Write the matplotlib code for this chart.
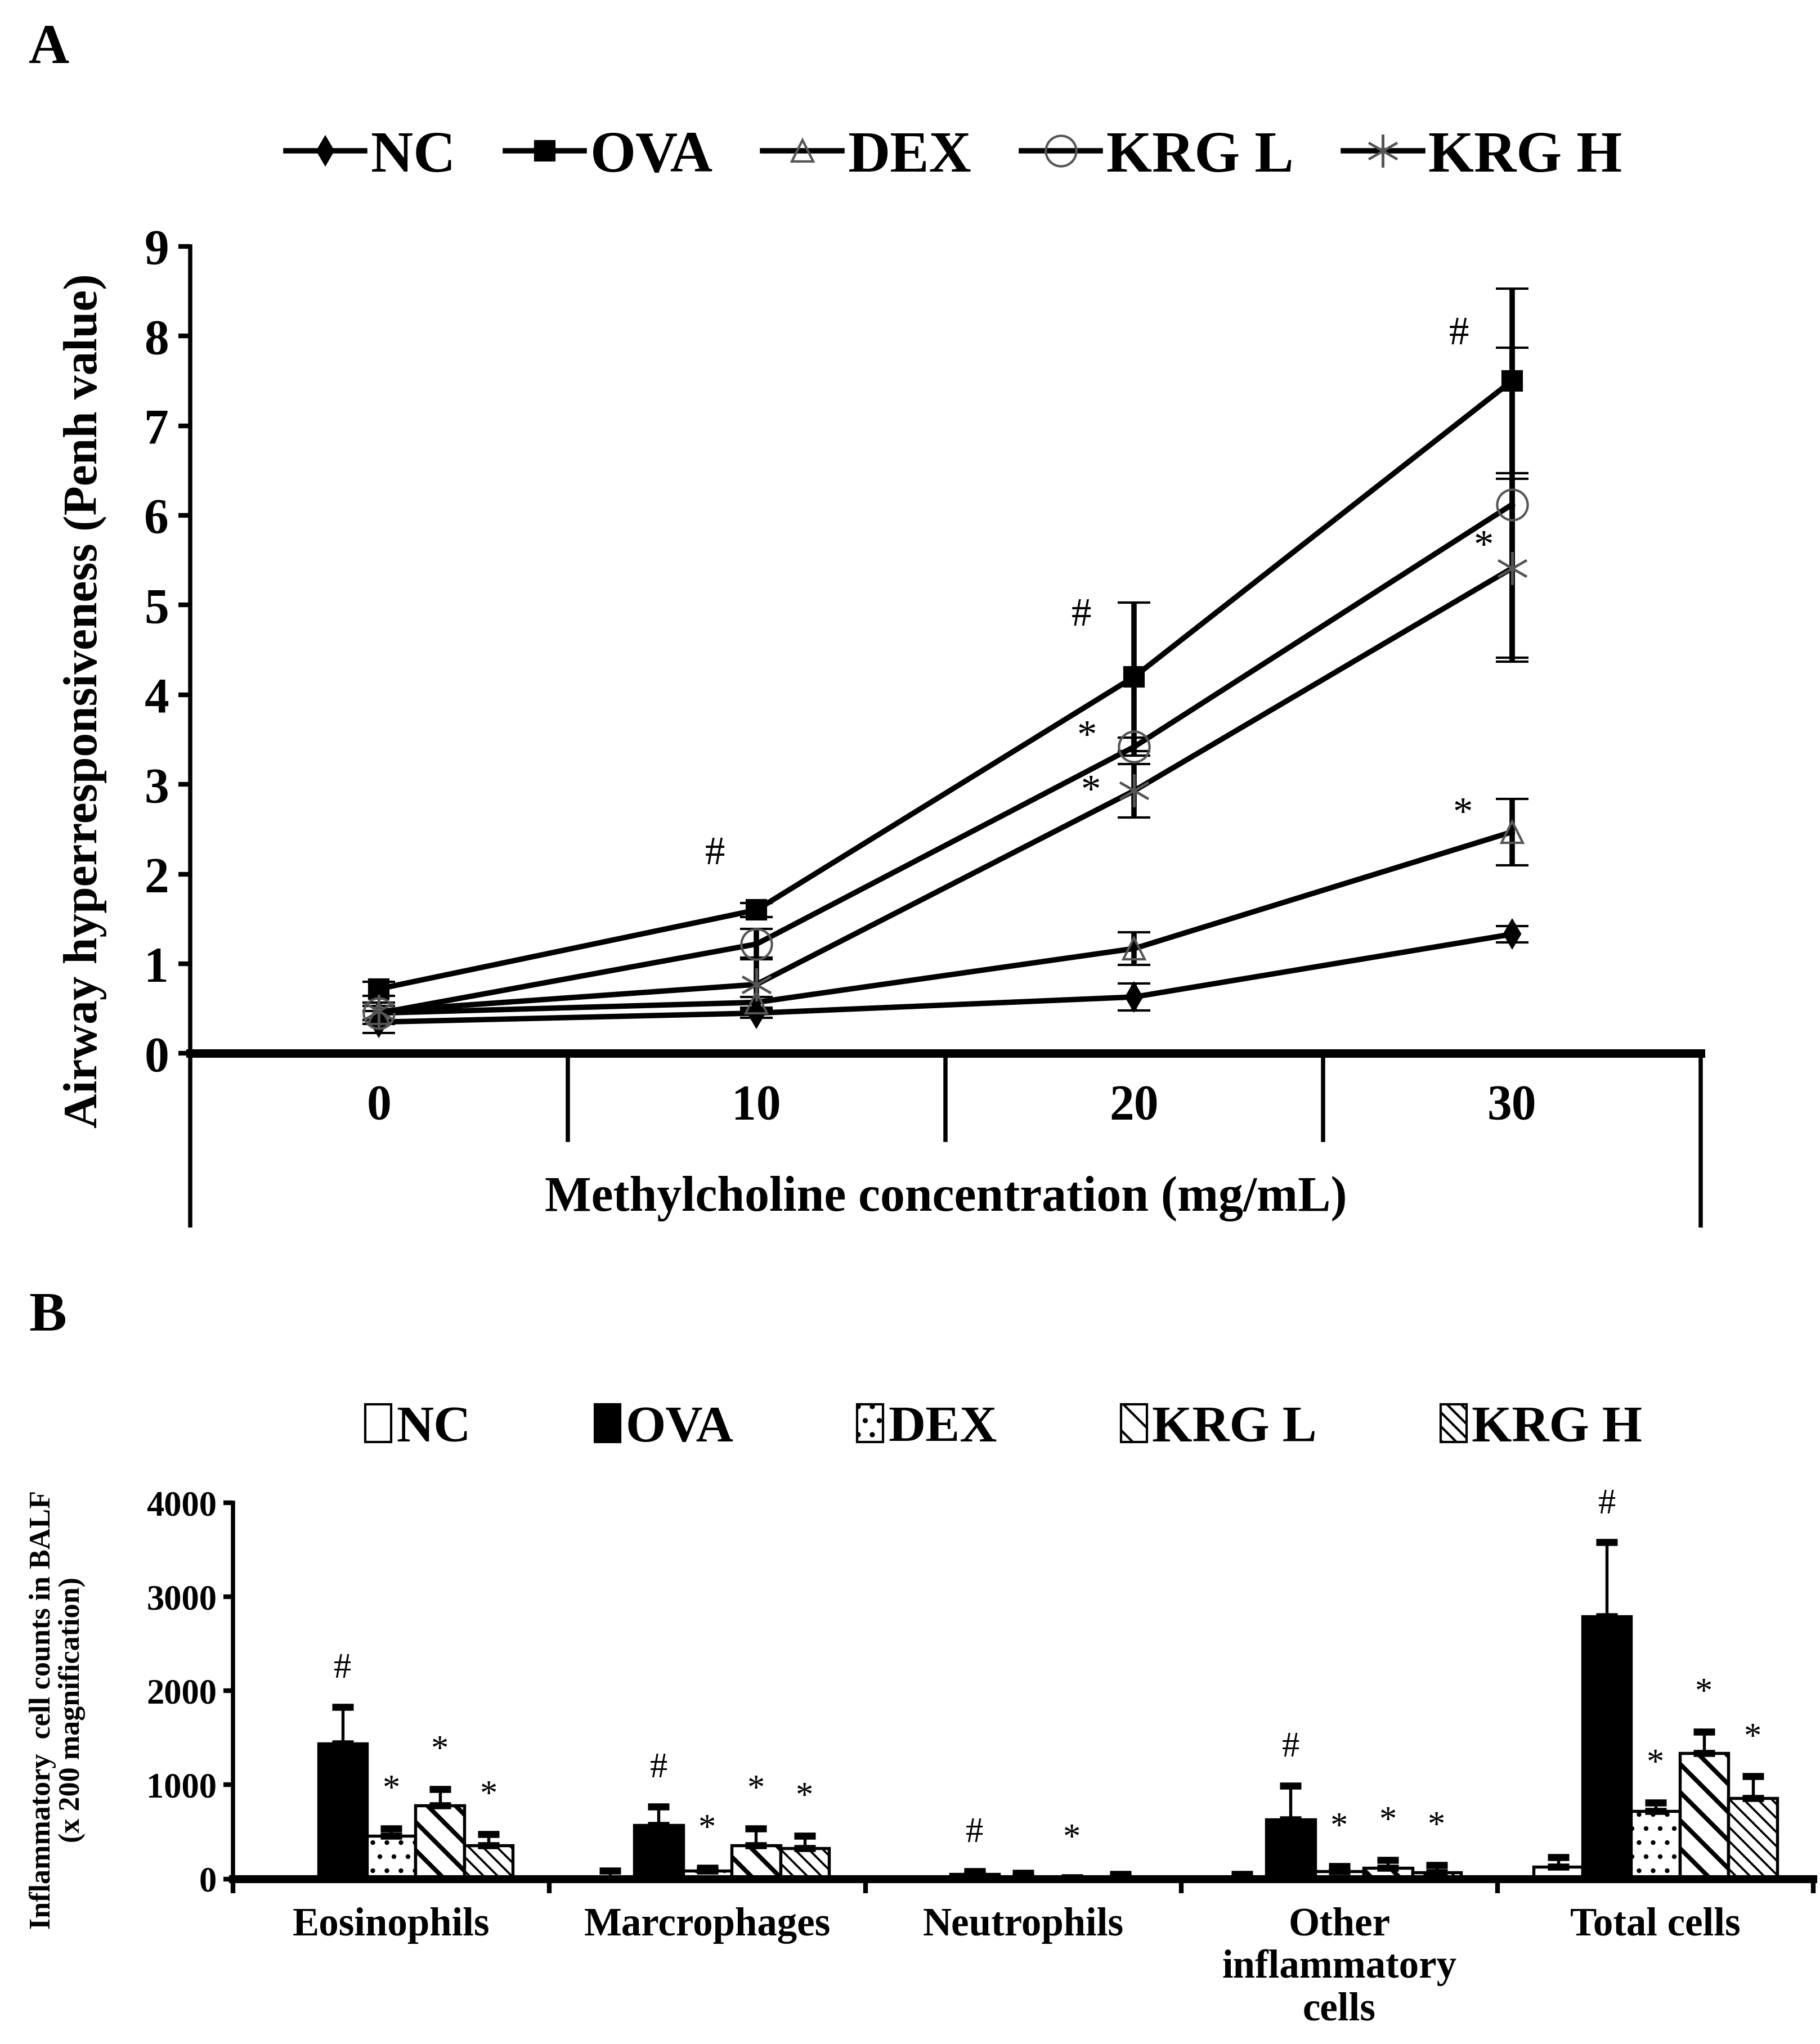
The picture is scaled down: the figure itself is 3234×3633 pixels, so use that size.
import numpy as np
import matplotlib
matplotlib.use("Agg")
import matplotlib.pyplot as plt
from matplotlib.lines import Line2D
from matplotlib.patches import Patch
import matplotlib.transforms as mtransforms

# ----------------------------
# DATA - panel A (Penh)
# ----------------------------
doses = ["0", "10", "20", "30"]
groups = ["NC", "OVA", "DEX", "KRG L", "KRG H"]

nc_a = [0.35, 0.45, 0.63, 1.33]
nc_a_err = [0.12, 0.05, 0.15, 0.09]
ova_a = [0.72, 1.60, 4.20, 7.50]
ova_a_err = [0.08, 0.08, 0.83, 1.03]
dex_a = [0.45, 0.57, 1.17, 2.47]
dex_a_err = [0.08, 0.06, 0.18, 0.37]
krgl_a = [0.45, 1.22, 3.42, 6.12]
krgl_a_err = [0.12, 0.17, 0.10, 1.75]
krgh_a = [0.47, 0.77, 2.93, 5.41]
krgh_a_err = [0.10, 0.30, 0.30, 1.00]

# significance marks in A: (dose index, x shift, y, symbol)
marks_a = [(1, -0.11, 2.22, "#"), (2, -0.14, 4.88, "#"), (3, -0.14, 8.02, "#"),
           (2, -0.125, 3.52, "*"), (2, -0.115, 2.91, "*"),
           (3, -0.075, 5.64, "*"), (3, -0.13, 2.66, "*")]

# ----------------------------
# DATA - panel B (BALF cells)
# ----------------------------
cells = ["Eosinophils", "Marcrophages", "Neutrophils",
         "Other\ninflammatory\ncells", "Total cells"]
nc_b = [0, 5, 0, 5, 130]
nc_b_err = [0, 80, 0, 45, 100]
ova_b = [1440, 570, 50, 630, 2790]
ova_b_err = [390, 200, 30, 360, 790]
dex_b = [460, 90, 15, 80, 720]
dex_b_err = [75, 30, 50, 55, 90]
krgl_b = [780, 355, 3, 120, 1335]
krgl_b_err = [175, 180, 15, 80, 230]
krgh_b = [355, 325, 15, 70, 860]
krgh_b_err = [120, 135, 35, 75, 230]

sig_nc = ["", "", "", "", ""]
sig_ova = ["#", "#", "#", "#", "#"]
sig_dex = ["*", "*", "", "*", "*"]
sig_krgl = ["*", "*", "*", "*", "*"]
sig_krgh = ["*", "*", "", "*", "*"]

# ----------------------------
# STYLE
# ----------------------------
plt.rcParams["font.family"] = ["Liberation Serif", "DejaVu Serif"]
plt.rcParams["font.weight"] = "bold"
plt.rcParams["hatch.color"] = "black"

W, H = 1389.0, 1560.0   # layout measured on the reduced view


def fx(x):
    return x / W


def fy(y):
    return 1 - y / H


fig = plt.figure(figsize=(10.78, 12.11), dpi=300)

# ----------------------------
# PANEL A
# ----------------------------
axA = fig.add_axes([fx(145), fy(804), fx(1298) - fx(145), fy(188) - fy(804)])
x = np.arange(len(doses))

styles = [
    dict(marker="d", ms=8, mfc="black", mec="black", mew=1),
    dict(marker="s", ms=8, mfc="black", mec="black", mew=1),
    dict(marker="^", ms=9, mfc="none", mec="#555555", mew=1.0),
    dict(marker="o", ms=13, mfc="none", mec="#555555", mew=1.0),
    dict(marker=(6, 2, 0), ms=14, mfc="none", mec="#555555", mew=1.0),
]
series_a = [(nc_a, nc_a_err), (ova_a, ova_a_err), (dex_a, dex_a_err),
            (krgl_a, krgl_a_err), (krgh_a, krgh_a_err)]

for (vals, errs), st in zip(series_a, styles):
    axA.errorbar(x, vals, yerr=errs, color="black", lw=2.3, elinewidth=2.3,
                 capsize=7, capthick=2.2, zorder=3, **st)

for i, dx, yv, sym in marks_a:
    axA.text(x[i] + dx, yv, sym, ha="center", va="center", fontsize=17,
             fontweight="normal", zorder=5)

axA.set_xlim(-0.5, 3.5)
axA.set_ylim(0, 9)
axA.set_yticks(range(0, 10))
axA.set_xticks(x)
axA.set_xticklabels(doses)
axA.tick_params(axis="x", length=0, pad=13, labelsize=21)
axA.tick_params(axis="y", direction="out", length=5, width=2, pad=4, labelsize=21)
for s in ["top", "right"]:
    axA.spines[s].set_visible(False)
axA.spines["bottom"].set_linewidth(3.6)
axA.spines["left"].set_linewidth(1.8)
axA.spines["left"].set_bounds(0, 9)

# table-like lines under the category axis
trA = mtransforms.blended_transform_factory(axA.transData, axA.transAxes)
for b in [-0.5, 3.5]:
    axA.plot([b, b], [0, -0.213], color="black", lw=1.8, transform=trA,
             clip_on=False)
for b in [0.5, 1.5, 2.5]:
    axA.plot([b, b], [0, -0.107], color="black", lw=1.8, transform=trA,
             clip_on=False)

fig.text(fx(722), fy(915), "Methylcholine concentration (mg/mL)", ha="center",
         va="center", fontsize=21)
fig.text(fx(65), fy(535), "Airway hyperresponsiveness (Penh value)", ha="center",
         va="center", rotation=90, fontsize=20.5)

handles_a = [Line2D([0], [0], color="black", lw=2.3, **st) for st in styles]
fig.legend(handles_a, groups, loc="center", bbox_to_anchor=(fx(728), fy(120)),
           ncol=5, frameon=False, fontsize=25, handlelength=1.35,
           handletextpad=0.1, columnspacing=0.85)

fig.text(fx(22), fy(38), "A", ha="left", va="center", fontsize=24)

# ----------------------------
# PANEL B
# ----------------------------
axB = fig.add_axes([fx(178), fy(1434), fx(1384) - fx(178), fy(1147) - fy(1434)])
xb = np.arange(len(cells))
bw = 0.154

series_b = [(nc_b, nc_b_err, "white", "", sig_nc),
            (ova_b, ova_b_err, "black", "", sig_ova),
            (dex_b, dex_b_err, "white", "..", sig_dex),
            (krgl_b, krgl_b_err, "white", "\\\\", sig_krgl),
            (krgh_b, krgh_b_err, "white", "\\\\\\\\", sig_krgh)]
hatch_lw = [1.0, 1.0, 0.8, 1.9, 0.9]

for k, (vals, errs, fc, hatch, sig) in enumerate(series_b):
    pos = xb + (k - 2) * bw
    plt.rcParams["hatch.linewidth"] = hatch_lw[k]
    bars = axB.bar(pos, vals, width=bw, color=fc, edgecolor="black",
                   linewidth=1.3, hatch=hatch, zorder=2)
    for p in bars:
        if hasattr(p, "set_hatch_linewidth"):
            p.set_hatch_linewidth(hatch_lw[k])
    axB.errorbar(pos, vals, yerr=[np.zeros(len(vals)), errs], fmt="none",
                 ecolor="black", elinewidth=1.3, capsize=4.5, capthick=3,
                 zorder=3)
    for p, v, e, s in zip(pos, vals, errs, sig):
        if s:
            axB.text(p, v + e + 400, s, ha="center", va="center", fontsize=15,
                     fontweight="normal", zorder=5)
plt.rcParams["hatch.linewidth"] = 1.0

axB.set_xlim(-0.5, 4.5)
axB.set_ylim(0, 4000)
axB.set_yticks(range(0, 4001, 1000))
axB.set_xticks(xb)
axB.set_xticklabels(cells, linespacing=1.2)
axB.set_xticks(np.arange(-0.5, 4.6, 1.0), minor=True)
axB.tick_params(axis="x", which="major", length=0, pad=12, labelsize=17)
axB.tick_params(axis="x", which="minor", direction="out", length=6, width=2)
axB.tick_params(axis="y", direction="out", length=4, width=2, pad=3, labelsize=15)
for s in ["top", "right"]:
    axB.spines[s].set_visible(False)
axB.spines["bottom"].set_linewidth(3.4)
axB.spines["left"].set_linewidth(1.8)

fig.text(fx(44), fy(1305), "Inflammatory  cell counts in BALF\n(x 200 magnification)",
         ha="center", va="center", rotation=90, fontsize=12.5, linespacing=1.1)

handles_b = [Patch(facecolor=fc, edgecolor="black", hatch=h, linewidth=1)
             for (_, _, fc, h, _) in series_b]
fig.legend(handles_b, groups, loc="center", bbox_to_anchor=(fx(766), fy(1090)),
           ncol=5, frameon=False, fontsize=22, handlelength=0.5,
           handleheight=0.75, handletextpad=0.1, columnspacing=2.4)

fig.text(fx(22), fy(1005), "B", ha="left", va="center", fontsize=24)

fig.savefig("out.png", dpi=300)
print("Graph generated")
